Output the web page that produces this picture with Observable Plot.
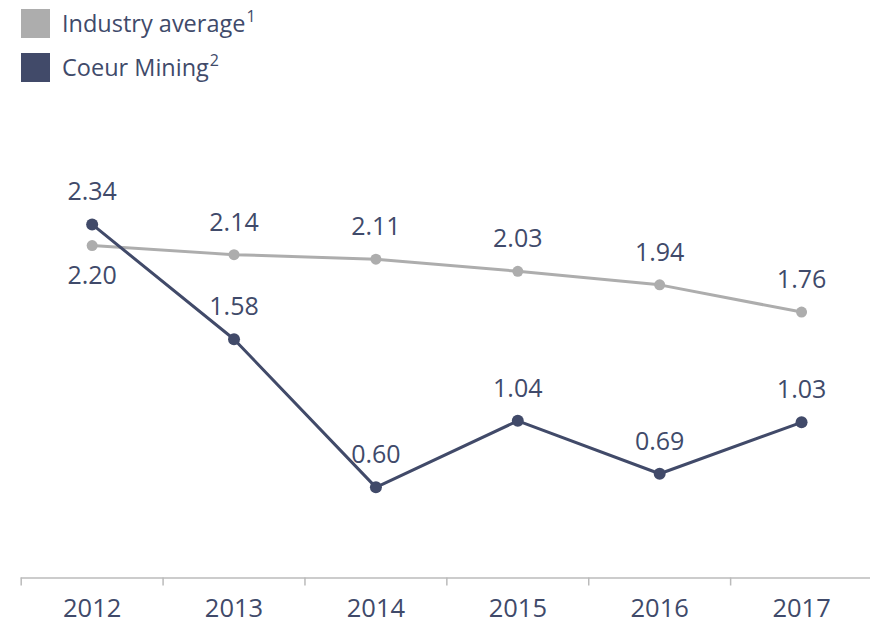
<!DOCTYPE html>
<html>
<head>
<meta charset="utf-8">
<script src="https://cdn.jsdelivr.net/npm/d3@7"></script>
<script src="https://cdn.jsdelivr.net/npm/@observablehq/plot@0.6"></script>
<style>
  html, body { margin: 0; padding: 0; background: #fff; }
  body { width: 870px; height: 624px; overflow: hidden; font-family: "Open Sans", sans-serif; color: #404a6a; }
  #legend { position: relative; height: 88px; }
  #chart svg { display: block; }
  .item { position: absolute; left: 21px; display: flex; align-items: center; font-size: 23.5px; line-height: 29px; }
  .sw { width: 29px; height: 29px; margin-right: 12px; }
  .item sup { font-size: 16px; position: relative; top: -1px; vertical-align: top; line-height: 16px; margin-left: 1px; }
</style>
</head>
<body>
<div id="legend"></div>
<div id="chart"></div>
<script>
const years = ["2012", "2013", "2014", "2015", "2016", "2017"];
const industry = [2.20, 2.14, 2.11, 2.03, 1.94, 1.76];
const coeur = [2.34, 1.58, 0.60, 1.04, 0.69, 1.03];
const seriesNames = ["Industry average", "Coeur Mining"];
const footnotes = ["1", "2"];
const colors = ["#adadad", "#414a69"];

// Legend
const legend = document.getElementById("legend");
seriesNames.forEach((name, i) => {
  const el = document.createElement("div");
  el.className = "item";
  el.style.top = (9 + i * 44) + "px";
  el.innerHTML = `<span class="sw" style="background:${colors[i]}"></span><span>${name}<sup>${footnotes[i]}</sup></span>`;
  legend.appendChild(el);
});

const rows = [];
years.forEach((y, i) => {
  rows.push({series: seriesNames[0], i, year: y, value: industry[i], below: industry[i] < coeur[i]});
  rows.push({series: seriesNames[1], i, year: y, value: coeur[i], below: false});
});
const ind = rows.filter(d => d.series === seriesNames[0]);
const coe = rows.filter(d => d.series === seriesNames[1]);
const xPos = d => d.i + 0.5;
const textColor = "#404a6a";

const legendH = 88;
const H = 624 - legendH;
const zeroY = 577.5 - legendH;  // baseline inside the SVG
const pxPerUnit = 151.1;
const yMax = 3;

const chart = Plot.plot({
  width: 870,
  height: H,
  marginLeft: 20.7,
  marginRight: 0,
  marginTop: zeroY - yMax * pxPerUnit,
  marginBottom: H - zeroY,
  x: {domain: [0, years.length], range: [20.7, 872], axis: null},
  y: {domain: [0, yMax], axis: null},
  style: {fontFamily: "Open Sans, sans-serif", background: "transparent", overflow: "visible"},
  marks: [
    Plot.ruleY([0], {stroke: "#bbbbbb", strokeWidth: 1.5}),
    Plot.axisX({ticks: d3.range(0, years.length + 1), tickFormat: () => "", tickSize: 8, stroke: "#bbbbbb", strokeWidth: 1.5, strokeOpacity: 1}),
    Plot.text(years.map((y, i) => ({y, i})), {x: xPos, y: () => 0, text: d => d.y, dy: 31, fontSize: 25.5, fill: textColor}),
    Plot.line(ind, {x: xPos, y: "value", stroke: colors[0], strokeWidth: 3}),
    Plot.dot(ind, {x: xPos, y: "value", r: 5.5, fill: colors[0]}),
    Plot.line(coe, {x: xPos, y: "value", stroke: colors[1], strokeWidth: 3}),
    Plot.dot(coe, {x: xPos, y: "value", r: 6, fill: colors[1]}),
    Plot.text(rows.filter(d => !d.below), {x: xPos, y: "value", text: d => d.value.toFixed(2), dy: -32, fontSize: 25, fill: textColor}),
    Plot.text(rows.filter(d => d.below), {x: xPos, y: "value", text: d => d.value.toFixed(2), dy: 30, fontSize: 25, fill: textColor})
  ]
});
document.getElementById("chart").appendChild(chart);
</script>
</body>
</html>
